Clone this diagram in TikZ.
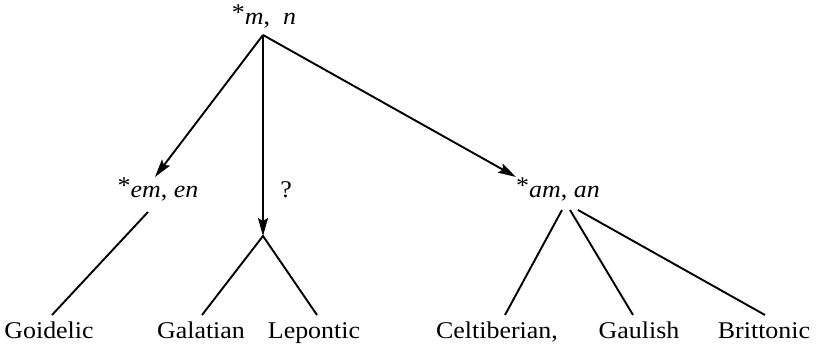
\documentclass[tikz,border=0pt]{standalone}
\usepackage{fontspec}
\setmainfont{Liberation Serif}[FakeStretch=1.08]
\usetikzlibrary{arrows.meta}
\begin{document}
\begin{tikzpicture}[x=1pt,y=-1pt,
  lbl/.style={inner sep=0pt,anchor=base,font=\fontsize{24}{28}\selectfont},
  edge/.style={line width=1.9pt},
  arr/.style={edge,-{Stealth[length=18pt,width=10pt,inset=3pt]}}]
\useasboundingbox (0,0) rectangle (821,347);
% labels
\node[lbl] (top) at (264,25) {\raisebox{4pt}{*}\textit{m},\ \ \textit{n}};
\node[lbl] (em) at (158,198) {\raisebox{4pt}{*}\textit{em}, \textit{en}};
\node[lbl] (am) at (558,198) {\raisebox{4pt}{*}\textit{am}, \textit{an}};
\node[lbl] (q) at (286,198) {?};
\node[lbl] (goi) at (49,338) {Goidelic};
\node[lbl] (gal) at (201,338) {Galatian};
\node[lbl] (lep) at (314,338) {Lepontic};
\node[lbl] (cel) at (497,338) {Celtiberian,};
\node[lbl] (gau) at (639,338) {Gaulish};
\node[lbl] (bri) at (764,338) {Brittonic};
% points
\coordinate (s) at (263,35);
\coordinate (tl) at (155,177);
\coordinate (tv) at (263,236);
\coordinate (tr) at (516,177);
\coordinate (goitop) at (148,212);
\coordinate (goibot) at (52,315);
\coordinate (galbot) at (202,315);
\coordinate (lepbot) at (317,315);
\coordinate (a1) at (562,210);
\coordinate (a2) at (570,210);
\coordinate (a3) at (578,210);
\coordinate (celbot) at (505,315);
\coordinate (gaubot) at (633,315);
\coordinate (bribot) at (765,315);
% arrows
\draw[arr] (s) -- (tl);
\draw[arr] (s) -- (tv);
\draw[arr] (s) -- (tr);
% branches
\draw[edge] (goitop) -- (goibot);
\draw[edge] (galbot) -- (tv) -- (lepbot);
\draw[edge] (a1) -- (celbot);
\draw[edge] (a2) -- (gaubot);
\draw[edge] (a3) -- (bribot);
\end{tikzpicture}
\end{document}
